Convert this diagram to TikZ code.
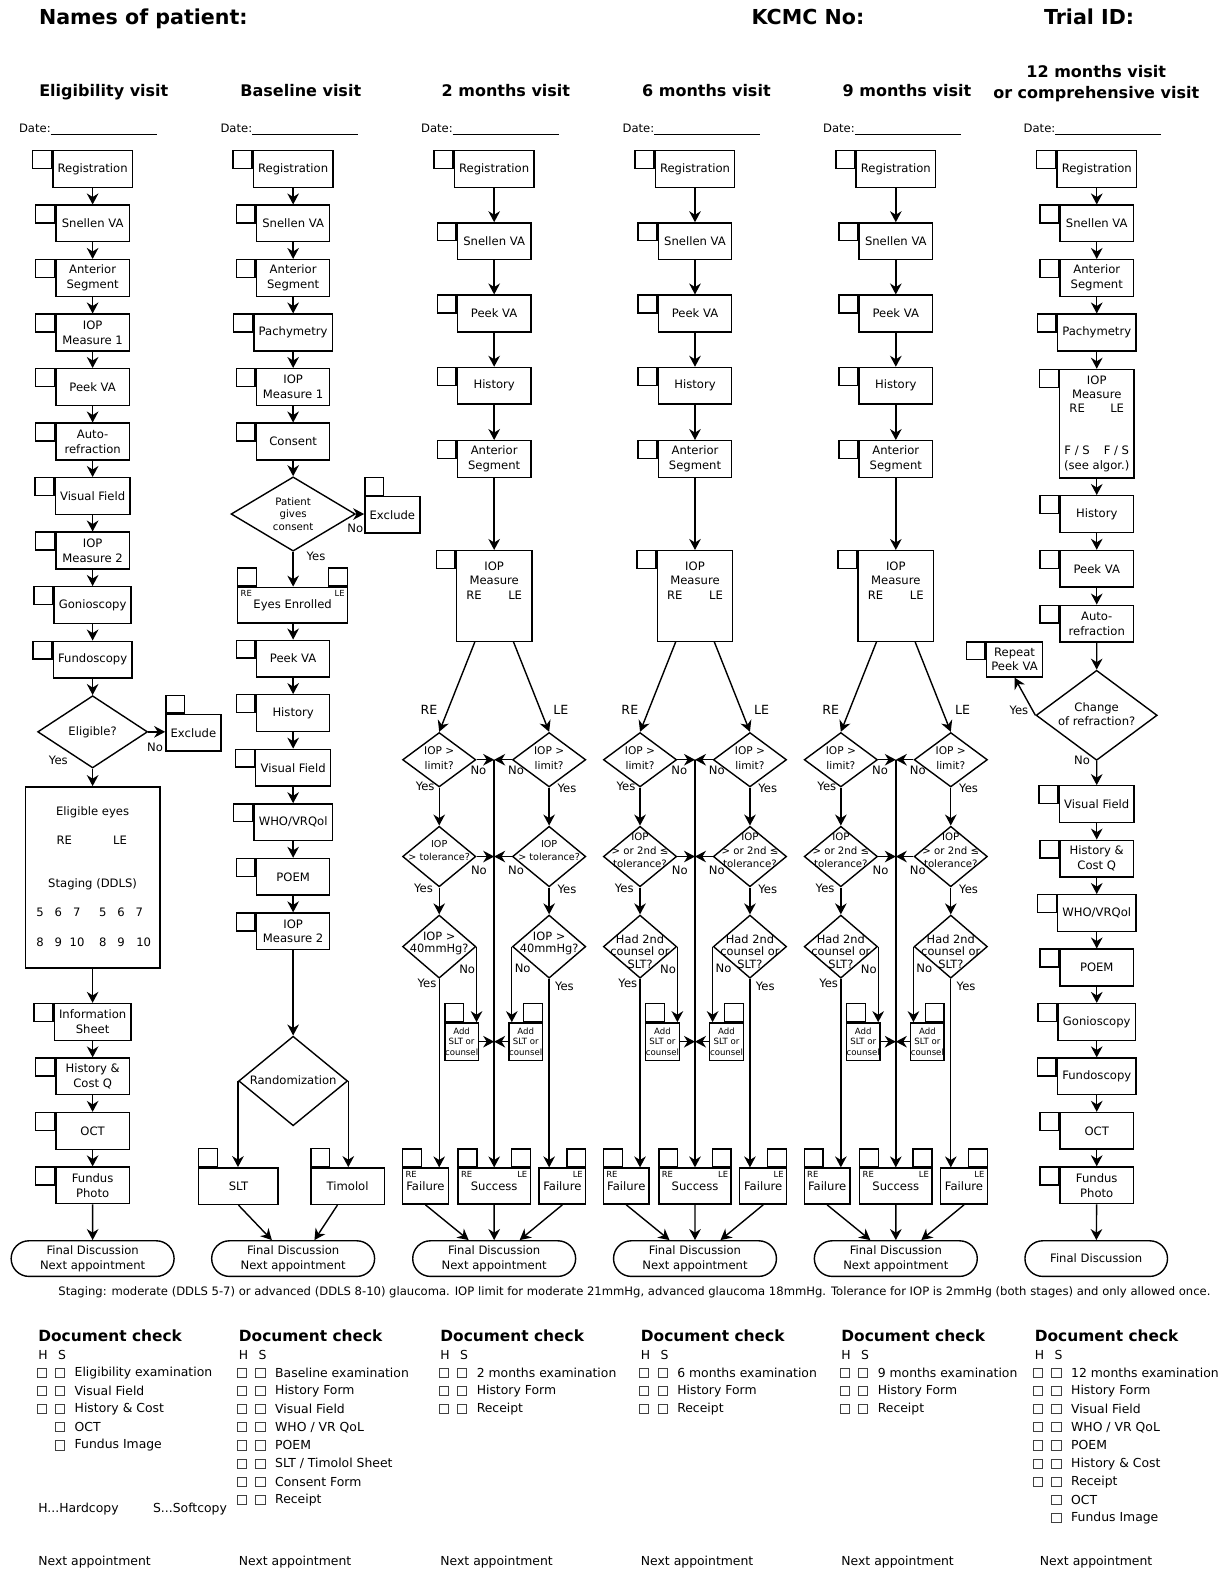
\documentclass[tikz,border=0pt]{standalone}
\usepackage{fontspec}
\setmainfont{DejaVu Sans}
\usetikzlibrary{arrows.meta,shapes.geometric,shapes.misc,calc}
\newlength{\px}
\setlength{\px}{0.50875pt}
\newcommand{\fsz}[2]{\fontsize{#1}{#2}\selectfont}
\tikzset{
  exam/.style={draw, minimum width=72\px, minimum height=36\px, inner xsep=2.4pt,
    inner ysep=1pt, align=center, font=\fsz{5.8}{7.4}},
  tabsq/.style={draw, minimum width=18.5\px, minimum height=17.5\px, inner sep=0pt},
  tabl/.style={label={[tabsq, anchor=north east]north west:}},
  tabu/.style={label={[tabsq, anchor=south west]north west:}},
  tabur/.style={label={[tabsq, anchor=south east]north east:}},
  dia/.style={draw, diamond, inner sep=0pt},
  dtxt/.style={align=center, inner sep=0pt, font=\fsz{5.3}{7.4}},
  fin/.style={draw, rounded rectangle, minimum width=164\px, minimum height=35\px,
    inner sep=1pt, align=center, font=\fsz{5.8}{7.6}},
  txt/.style={inner sep=0pt, font=\fsz{5.8}{7}},
  yn/.style={inner sep=0pt, font=\fsz{5.8}{7}},
  eyelbl/.style={inner sep=0pt, font=\fsz{6.3}{7.5}},
  sm/.style={inner sep=1.5pt, font=\fsz{4.2}{5}},
  title/.style={inner sep=0pt, anchor=base west, font=\bfseries\fsz{10.3}{12}},
  head/.style={inner sep=0pt, align=center, font=\bfseries\fsz{8}{10.7}},
  dhead/.style={inner sep=0pt, anchor=west, font=\bfseries\fsz{7.7}{9}},
  doc/.style={inner sep=0pt, anchor=west, font=\fsz{6.2}{7.5}},
  chk/.style={draw=black!75, line width=0.5pt, minimum size=9\px, inner sep=0pt},
}
\begin{document}
\begin{tikzpicture}[x=0.50875pt, y=-0.50875pt, line width=0.7pt,
    >={Stealth[length=5.5pt,width=5.8pt]}]
\useasboundingbox (0,0) rectangle (1198,1568);
\fill[white] (0,0) rectangle (1198,1568);

% header
\node[title] (nm) at (37.7,24) {Names of patient:};
\node[title] (kc) at (737.8,24.5) {KCMC No:};
\node[title] (tr) at (1025,24.5) {Trial ID:};
\foreach \x/\t [count=\i] in {102/Eligibility visit, 295.5/Baseline visit, 497/2 months visit, 694/6 months visit, 891/9 months visit}
  \node[head, anchor=base] (vh\i) at (\x,94.5) {\t};
\node[head] (vh6) at (1077,82) {12 months visit\\or comprehensive visit};
\foreach \x [count=\i] in {18,216,413,611,808,1005}
  \node[txt, anchor=base west] (dt\i) at (\x,130) {Date:\rule[-1.2pt]{53pt}{0.45pt}};

% eligibility visit
\foreach \t [count=\i] in {Registration, Snellen VA, {Anterior\\Segment}, {IOP\\Measure 1}, Peek VA, {Auto-\\refraction}, Visual Field, {IOP\\Measure 2}, Gonioscopy, Fundoscopy}
  \node[exam, tabl] (e\i) at (91,112.45+53.55*\i) {\t};
\foreach \i [count=\j from 2] in {1,...,9}
  \draw[->] (e\i) -- (e\j);
\node[dia, minimum width=108\px, minimum height=71\px] (elig) at (91,719) {};
\node[dtxt, font=\fsz{5.8}{7}] (eligt) at (elig) {Eligible?};
\node[exam, tabu, minimum width=54\px] (exc1) at (190,720) {Exclude};
\node[exam, minimum width=132\px, minimum height=178\px] (eyes) at (91,862) {};
\node[txt] (ee) at (91,797.7) {Eligible eyes};
\node[txt] (eer) at (63.2,825.5) {RE};
\node[txt] (eel) at (117.9,825.5) {LE};
\node[txt] (est) at (91,868.8) {Staging (DDLS)};
\foreach \d/\x [count=\i] in {5/39.3, 6/57.3, 7/75.4, 5/100.9, 6/118.9, 7/136.9}
  \node[txt] (u\i) at (\x,896.6) {\d};
\foreach \d/\x [count=\i] in {8/39.3, 9/57.3, 10/75.7, 8/100.9, 9/118.9, 10/141.2}
  \node[txt] (w\i) at (\x,926.1) {\d};
\foreach \t [count=\i] in {{Information\\Sheet}, {History \&\\Cost Q}, OCT, {Fundus\\Photo}}
  \node[exam, tabl] (g\i) at (91,950.4+53.55*\i) {\t};
\node[fin] (fin1) at (91,1236.5) {Final Discussion\\Next appointment};
\draw[->] (e10) -- (elig);
\draw[->] (elig.east) -- (elig.east -| exc1.west);
\node[yn] (n1) at (152.3,734.5) {No};
\node[yn] (y1) at (57.3,747) {Yes};
\draw[->] (elig) -- (eyes);
\draw[->] (eyes) -- (g1);
\foreach \i [count=\j from 2] in {1,...,3}
  \draw[->] (g\i) -- (g\j);
\draw[->] (g4) -- (fin1);

% baseline visit
\foreach \t [count=\i] in {Registration, Snellen VA, {Anterior\\Segment}, Pachymetry, {IOP\\Measure 1}, Consent}
  \node[exam, tabl] (b\i) at (288,112.45+53.55*\i) {\t};
\node[dia, minimum width=122\px, minimum height=73\px] (cons) at (288,505) {};
\node[dtxt, font=\fsz{5.1}{6.3}] (const) at (288,505) {Patient\\gives\\consent};
\node[exam, tabu, minimum width=53\px, minimum height=35.5\px] (exc2) at (385.5,505.7) {Exclude};
\node[exam, tabu, tabur, minimum width=108\px, minimum height=35\px] (enr) at (287.5,594.5) {Eyes Enrolled};
\node[sm, anchor=north west] (enrr) at (enr.north west) {RE};
\node[sm, anchor=north east] (enrl) at (enr.north east) {LE};
\foreach \t [count=\i from 7] in {Peek VA, History, Visual Field, {WHO/VRQol}, POEM, {IOP\\Measure 2}}
  \node[exam, tabl] (b\i) at (288,647+53.6*\i-375.2) {\t};
\node[dia, minimum width=107\px, minimum height=88\px] (rand) at (288,1062) {};
\node[dtxt, font=\fsz{5.8}{7}] (randt) at (288,1061) {Randomization};
\node[exam, tabu, minimum width=78\px, minimum height=36\px] (slt) at (234.3,1165.3) {SLT};
\node[exam, tabu, minimum width=72\px, minimum height=36\px] (tim) at (341.5,1165.3) {Timolol};
\node[fin] (fin2) at (288,1236.5) {Final Discussion\\Next appointment};
\foreach \i [count=\j from 2] in {1,...,5}
  \draw[->] (b\i) -- (b\j);
\draw[->] (b6) -- (cons);
\draw[->] (cons.east) -- (cons.east -| exc2.west);
\node[yn] (n2) at (349,519) {No};
\draw[->] (cons) -- (cons |- enr.north);
\node[yn] (y2) at (310.5,546.4) {Yes};
\draw[->] (enr.south -| b7) -- (b7);
\foreach \i [count=\j from 8] in {7,...,11}
  \draw[->] (b\i) -- (b\j);
\draw[->] (b12) -- (rand);
\draw[->] (rand.west) -- (rand.west |- slt.north);
\draw[->] (rand.east) -- (rand.east |- tim.north);
\draw[->] (slt.south) -- (fin2.139);
\draw[->] ($(tim.south)+(-10,0)$) -- (fin2.41);

% 2, 6 and 9 months visits
\foreach \cx/\k/\fb/\tb/\tc/\qy in {485.5/a/4.8/{IOP\\> tolerance?}/{IOP >\\40mmHg?}/927,
    682.8/b/5.1/{IOP\\> or 2nd ≤\\tolerance?}/{Had 2nd\\counsel or\\SLT?}/935,
    880.1/c/5.1/{IOP\\> or 2nd ≤\\tolerance?}/{Had 2nd\\counsel or\\SLT?}/935} {
  \node[exam, tabl] (r\k) at (\cx,166) {Registration};
  \node[exam, tabl] (s\k) at (\cx,237) {Snellen VA};
  \node[exam, tabl] (p\k) at (\cx,308) {Peek VA};
  \node[exam, tabl] (h\k) at (\cx,379) {History};
  \node[exam, tabl] (a\k) at (\cx,451) {Anterior\\Segment};
  \node[exam, tabl, minimum width=74\px, minimum height=89\px] (m\k) at (\cx,585.5) {};
  \node[txt, align=center, anchor=north, font=\fsz{5.8}{7.1}] (mt\k) at (\cx,551.5) {IOP\\Measure\\RE\hspace{13.3pt}LE};
  \draw[->] (r\k) -- (s\k);
  \draw[->] (s\k) -- (p\k);
  \draw[->] (p\k) -- (h\k);
  \draw[->] (h\k) -- (a\k);
  \draw[->] (a\k) -- (m\k);
  % diamonds
  \node[dia, minimum width=72\px, minimum height=53.5\px] (l1\k) at (\cx-54,746.4) {};
  \node[dia, minimum width=72\px, minimum height=53.5\px] (l2\k) at (\cx+54,746.4) {};
  \node[dia, minimum width=72\px, minimum height=59.5\px] (t1\k) at (\cx-54,841.5) {};
  \node[dia, minimum width=72\px, minimum height=59.5\px] (t2\k) at (\cx+54,841.5) {};
  \node[dia, minimum width=72\px, minimum height=62\px] (q1\k) at (\cx-54,930) {};
  \node[dia, minimum width=72\px, minimum height=62\px] (q2\k) at (\cx+54,930) {};
  \node[dtxt] (l1t\k) at (\cx-54,744.4) {IOP >\\limit?};
  \node[dtxt] (l2t\k) at (\cx+54,744.4) {IOP >\\limit?};
  \node[dtxt, font=\fsz{\fb}{6.6}] (t1t\k) at (\cx-54,835.5) {\tb};
  \node[dtxt, font=\fsz{\fb}{6.6}] (t2t\k) at (\cx+54,835.5) {\tb};
  \node[dtxt, font=\fsz{5.7}{6.2}] (q1t\k) at (\cx-54,\qy) {\tc};
  \node[dtxt, font=\fsz{5.7}{6.2}] (q2t\k) at (\cx+54,\qy) {\tc};
  \node[eyelbl] (er\k) at (\cx-64,697.5) {RE};
  \node[eyelbl] (el\k) at (\cx+65.5,697.5) {LE};
  \draw[->] ($(m\k.south)+(-19,0)$) -- (l1\k.north);
  \draw[->] ($(m\k.south)+(19,0)$) -- (l2\k.north);
  % add, failure and success
  \node[exam, tabu, minimum width=33\px, minimum height=37\px, inner sep=0pt, font=\fsz{4.3}{5.2}] (ad1\k) at (\cx-32,1023.4) {Add\\SLT or\\counsel};
  \node[exam, tabur, minimum width=33\px, minimum height=37\px, inner sep=0pt, font=\fsz{4.3}{5.2}] (ad2\k) at (\cx+31,1023.4) {Add\\SLT or\\counsel};
  \node[exam, tabu, minimum width=45\px, minimum height=35.4\px, inner xsep=0pt] (f1\k) at (\cx-67.5,1165.3) {Failure};
  \node[exam, tabu, tabur, minimum width=71\px, minimum height=35.4\px] (sc\k) at (\cx,1165.3) {Success};
  \node[exam, tabur, minimum width=46\px, minimum height=35.4\px, inner xsep=0pt] (f2\k) at (\cx+67,1165.3) {Failure};
  \node[sm, anchor=north west] (f1r\k) at (f1\k.north west) {RE};
  \node[sm, anchor=north west] (scr\k) at (sc\k.north west) {RE};
  \node[sm, anchor=north east] (scl\k) at (sc\k.north east) {LE};
  \node[sm, anchor=north east] (f2l\k) at (f2\k.north east) {LE};
  \node[fin] (fn\k) at (\cx,1236.5) {Final Discussion\\Next appointment};
  \coordinate (c\k) at (\cx,746.4);
  \draw[->] (c\k) -- (c\k |- sc\k.north);
  \draw[->] (l1\k.east) -- (l1\k.east -| c\k);
  \draw[->] (l2\k.west) -- (l2\k.west -| c\k);
  \draw[->] (t1\k.east) -- (t1\k.east -| c\k);
  \draw[->] (t2\k.west) -- (t2\k.west -| c\k);
  \draw[->] (ad1\k.east) -- (ad1\k.east -| c\k);
  \draw[->] (ad2\k.west) -- (ad2\k.west -| c\k);
  \draw[->] (l1\k) -- (t1\k);
  \draw[->] (l2\k) -- (t2\k);
  \draw[->] (t1\k) -- (q1\k);
  \draw[->] (t2\k) -- (q2\k);
  \draw[->] (q1\k.east) -- (q1\k.east |- ad1\k.north);
  \draw[->] (q2\k.west) -- (q2\k.west |- ad2\k.north);
  \draw[->] (q1\k.south) -- (q1\k.south |- f1\k.north);
  \draw[->] (q2\k.south) -- (q2\k.south |- f2\k.north);
  \draw[->] (f1\k.south) -- (fn\k.144);
  \draw[->] (sc\k) -- (fn\k);
  \draw[->] (f2\k.south) -- (fn\k.36);
  \foreach \lx/\ly/\lt [count=\i] in {-67.8/773/Yes, -15.5/757/No, 21.5/757/No, 71.5/775/Yes,
      -69.5/873/Yes, -15/855/No, 21.5/855/No, 71.5/874/Yes,
      -66/966/Yes, -26.5/952/No, 28/951/No, 69/969/Yes}
    \node[yn] (yn\k\i) at (\cx+\lx,\ly) {\lt};
}

% 12 months visit
\foreach \t [count=\i] in {Registration, Snellen VA, {Anterior\\Segment}, Pachymetry}
  \node[exam, tabl] (k\i) at (1077.5,112.45+53.55*\i) {\t};
\node[exam, tabl, minimum width=73\px, minimum height=106.5\px] (k5) at (1077.5,416.2) {};
\node[txt, align=center, anchor=north, font=\fsz{5.8}{7.1}] (k5t) at (1077.5,368.5) {IOP\\Measure\\RE\hspace{12.7pt}LE};
\node[txt, align=center, anchor=south, font=\fsz{5.8}{7.4}] (k5b) at (1077.5,464) {F / S\hspace{7pt}F / S\\(see algor.)};
\foreach \t [count=\i from 6] in {History, Peek VA, {Auto-\\refraction}}
  \node[exam, tabl] (k\i) at (1077.5,505+53.8*\i-322.8) {\t};
\node[dia, minimum width=119\px, minimum height=88.5\px] (chg) at (1077.4,702.75) {};
\node[dtxt, font=\fsz{5.8}{7.2}] (chgt) at (1077.4,701.5) {Change\\of refraction?};
\node[exam, tabl, minimum width=54\px, minimum height=34.4\px] (rep) at (996.7,647.8) {Repeat\\Peek VA};
\foreach \t [count=\i from 9] in {Visual Field, {History \&\\Cost Q}, {WHO/VRQol}, POEM, Gonioscopy, Fundoscopy, OCT, {Fundus\\Photo}}
  \node[exam, tabl] (k\i) at (1077.5,790+53.5*\i-481.5) {\t};
\node[fin, minimum width=144\px] (fin6) at (1077,1236.5) {Final Discussion};
\foreach \i [count=\j from 2] in {1,...,7}
  \draw[->] (k\i) -- (k\j);
\draw[->] (k8) -- (chg);
\draw[->] (chg.west) -- (rep.south);
\node[yn] (y6) at (1001,697.8) {Yes};
\draw[->] (chg) -- (k9);
\node[yn] (n6) at (1063,747) {No};
\foreach \i [count=\j from 10] in {9,...,15}
  \draw[->] (k\i) -- (k\j);
\draw[->] (k16) -- (fin6);

% note
\node[txt, anchor=west] (note) at (56.7,1269.5) {Staging: moderate (DDLS 5-7) or advanced (DDLS 8-10) glaucoma. IOP limit for moderate 21mmHg, advanced glaucoma 18mmHg. Tolerance for IOP is 2mmHg (both stages) and only allowed once.};

% document check
\foreach \x/\k/\lst in {37/1/{Eligibility examination, Visual Field, {History \& Cost}},
    234/2/{Baseline examination, History Form, Visual Field, {WHO / VR QoL}, POEM, {SLT / Timolol Sheet}, Consent Form, Receipt},
    432/3/{2 months examination, History Form, Receipt},
    629/4/{6 months examination, History Form, Receipt},
    826/5/{9 months examination, History Form, Receipt},
    1016/6/{12 months examination, History Form, Visual Field, {WHO / VR QoL}, POEM, {History \& Cost}, Receipt}} {
  \node[dhead] (dc\k) at (\x,1312.7) {Document check};
  \node[doc] (dh\k) at (\x,1331) {H};
  \node[doc] (ds\k) at (\x+19.3,1331) {S};
  \foreach \t [count=\i from 0] in \lst {
    \node[chk] (hb\k\i) at (\x+4,1348.7+17.85*\i) {};
    \node[chk] (sb\k\i) at (\x+22,1348.7+17.85*\i) {};
    \node[doc] (it\k\i) at (\x+35.7,1348.7+17.85*\i) {\t};
  }
}
\foreach \x/\k/\t/\i in {37/1/OCT/3, 37/1/Fundus Image/4, 1016/6/OCT/7, 1016/6/Fundus Image/8} {
  \node[chk] (sb\k\i) at (\x+22,1348.7+17.85*\i) {};
  \node[doc] (it\k\i) at (\x+35.7,1348.7+17.85*\i) {\t};
}
\node[doc] (hard) at (37,1483) {H...Hardcopy};
\node[doc] (soft) at (149.7,1483) {S...Softcopy};
\foreach \x [count=\i] in {37,234,432,629,826,1021}
  \node[doc] (na\i) at (\x,1535) {Next appointment};
\end{tikzpicture}
\end{document}
